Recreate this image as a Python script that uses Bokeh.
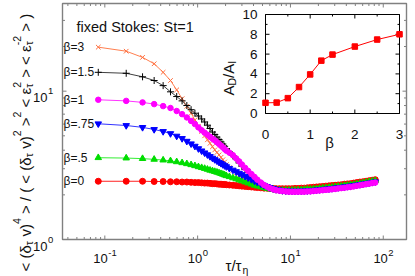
import math
from bokeh.plotting import figure
from bokeh.models import Range1d, Label, LinearScale
from bokeh.embed import file_html
from bokeh.resources import INLINE

# ---------------- data ----------------
tau = [0.085, 0.17, 0.255, 0.34, 0.425, 0.51, 0.595, 0.68,
       0.765, 0.85, 0.935, 1.02, 1.105, 1.19, 1.275, 1.36,
       1.445, 1.53, 1.615, 1.7, 1.785, 1.87, 1.955, 2.04,
       2.2, 2.4, 2.6, 2.8, 3.0, 3.25, 3.5, 3.8,
       4.1, 4.4, 4.8, 5.2, 5.6, 6.0, 6.5, 7.0,
       7.6, 8.2, 8.9, 9.6, 10.4, 11.2, 12.1, 13.1,
       14.1, 15.2, 16.4, 17.7, 19.1, 20.6, 22.3, 24.1,
       26.0, 28.0, 30.3, 32.7, 35.3, 38.1, 41.1, 44.4,
       48.0, 51.8, 56.0, 60.4, 65.2, 70.4, 76.0, 82.0]

flat_b3 = [19.8, 18.6, 16.9, 15.3, 13.4, 11.8, 10.2, 8.9,
           7.9, 7.1, 6.4, 5.8, 5.35, 5.0, 4.7, 4.45,
           4.22, 4.02, 3.86, 3.72, 3.58, 3.45, 3.33, 3.20,
           3.05, 2.92, 2.80, 2.70, 2.62, 2.54, 2.46, 2.39,
           2.33, 2.29, 2.25, 2.22, 2.20, 2.19, 2.18, 2.18,
           2.17, 2.17, 2.17, 2.17, 2.18, 2.18, 2.19, 2.19,
           2.20, 2.21, 2.22, 2.23, 2.24, 2.25, 2.26, 2.27,
           2.28, 2.30, 2.31, 2.32, 2.34, 2.35, 2.37, 2.38,
           2.40, 2.42, 2.44, 2.46, 2.48, 2.50, 2.52, 2.54]

flat_b15 = [13.4, 13.2, 12.5, 11.8, 10.9, 9.9, 9.2, 8.6,
            8.0, 7.5, 7.1, 6.8, 6.5, 6.2, 5.9, 5.6,
            5.3, 5.1, 4.9, 4.72, 4.55, 4.40, 4.25, 4.10,
            3.90, 3.68, 3.48, 3.28, 3.12, 2.96, 2.84, 2.70,
            2.58, 2.48, 2.38, 2.30, 2.25, 2.21, 2.18, 2.16,
            2.14, 2.13, 2.12, 2.12, 2.12, 2.12, 2.12, 2.12,
            2.13, 2.13, 2.14, 2.15, 2.16, 2.17, 2.18, 2.19,
            2.20, 2.21, 2.22, 2.24, 2.25, 2.26, 2.28, 2.29,
            2.31, 2.33, 2.35, 2.37, 2.39, 2.41, 2.43, 2.45]

flat_b1 = [8.75, 8.60, 8.40, 8.18, 7.93, 7.70, 7.35, 7.00,
           6.65, 6.30, 6.00, 5.70, 5.45, 5.25, 5.08, 4.92,
           4.78, 4.66, 4.53, 4.41, 4.29, 4.18, 4.07, 3.97,
           3.85, 3.70, 3.52, 3.36, 3.20, 3.04, 2.90, 2.76,
           2.64, 2.53, 2.42, 2.33, 2.27, 2.22, 2.18, 2.15,
           2.13, 2.12, 2.11, 2.10, 2.10, 2.10, 2.10, 2.10,
           2.10, 2.11, 2.11, 2.12, 2.13, 2.14, 2.15, 2.16,
           2.17, 2.18, 2.19, 2.21, 2.22, 2.23, 2.25, 2.26,
           2.28, 2.30, 2.32, 2.34, 2.36, 2.38, 2.40, 2.42]

flat_b075 = [6.03, 5.87, 5.70, 5.52, 5.35, 5.18, 4.98, 4.80,
             4.60, 4.42, 4.26, 4.10, 3.96, 3.84, 3.73, 3.63,
             3.54, 3.46, 3.39, 3.32, 3.26, 3.20, 3.15, 3.10,
             3.02, 2.94, 2.87, 2.80, 2.74, 2.67, 2.61, 2.54,
             2.48, 2.43, 2.37, 2.32, 2.28, 2.24, 2.21, 2.18,
             2.16, 2.14, 2.13, 2.12, 2.12, 2.12, 2.12, 2.12,
             2.13, 2.13, 2.14, 2.15, 2.16, 2.17, 2.18, 2.19,
             2.20, 2.21, 2.23, 2.24, 2.25, 2.27, 2.28, 2.30,
             2.32, 2.33, 2.35, 2.37, 2.39, 2.41, 2.43, 2.45]

flat_b05 = [3.56, 3.54, 3.51, 3.47, 3.43, 3.39, 3.34, 3.29,
            3.24, 3.19, 3.14, 3.09, 3.05, 3.01, 2.97, 2.93,
            2.90, 2.87, 2.84, 2.81, 2.78, 2.75, 2.72, 2.69,
            2.65, 2.60, 2.56, 2.52, 2.48, 2.44, 2.40, 2.36,
            2.32, 2.29, 2.26, 2.23, 2.21, 2.19, 2.18, 2.17,
            2.16, 2.15, 2.15, 2.15, 2.15, 2.15, 2.16, 2.16,
            2.17, 2.18, 2.18, 2.19, 2.20, 2.21, 2.22, 2.23,
            2.24, 2.25, 2.27, 2.28, 2.29, 2.31, 2.32, 2.34,
            2.35, 2.37, 2.39, 2.41, 2.43, 2.45, 2.47, 2.49]

flat_b0 = [2.47, 2.47, 2.47, 2.46, 2.46, 2.45, 2.45, 2.44,
           2.44, 2.43, 2.42, 2.42, 2.41, 2.40, 2.40, 2.39,
           2.38, 2.38, 2.37, 2.36, 2.36, 2.35, 2.35, 2.34,
           2.33, 2.32, 2.31, 2.30, 2.29, 2.28, 2.27, 2.26,
           2.25, 2.24, 2.23, 2.22, 2.22, 2.21, 2.21, 2.20,
           2.20, 2.20, 2.20, 2.20, 2.20, 2.21, 2.21, 2.22,
           2.22, 2.23, 2.24, 2.25, 2.26, 2.27, 2.28, 2.29,
           2.30, 2.31, 2.32, 2.33, 2.34, 2.36, 2.37, 2.38,
           2.40, 2.42, 2.44, 2.45, 2.47, 2.49, 2.51, 2.53]

curve_labels = ["β=3", "β=1.5", "β=1", "β=.75", "β=.5", "β=0"]

inset_beta = [0, 0.25, 0.5, 0.75, 1.0, 1.25, 1.5, 2.0, 2.5, 3.0]
inset_ratio = [1.08, 1.10, 1.55, 2.67, 3.95, 5.34, 5.95, 6.76, 7.47, 8.00]

x_major = [0.1, 1, 10, 100]
x_major_exp = ["-1", "0", "1", "2"]
x_minor = [0.04, 0.05, 0.06, 0.07, 0.08, 0.09,
           0.2, 0.3, 0.4, 0.5, 0.6, 0.7, 0.8, 0.9,
           2, 3, 4, 5, 6, 7, 8, 9,
           20, 30, 40, 50, 60, 70, 80, 90]
y_major = [1, 10]
y_major_exp = ["0", "1"]
y_minor = [2, 3, 4, 5, 6, 7, 8, 9, 20, 30]

inset_xticks = [0, 1, 2, 3]
inset_xminor = [0.5, 1.5, 2.5]
inset_yticks = [0, 2, 4, 6, 8, 10]
inset_yminor = [1, 3, 5, 7, 9]

for s in (flat_b3, flat_b15, flat_b1, flat_b075, flat_b05, flat_b0):
    assert len(s) == len(tau), len(s)

# ---------------- geometry ----------------
W, H = 415, 276                       # canvas (page has no margin)
PL, PR, PT, PB = 62, 406, 3, 239      # main plotting box on the page
XA0, XA1 = 0.035, 178.0               # data limits of the main box
YA0, YA1 = 1.0, 39.0
lx0, lx1 = math.log10(XA0), math.log10(XA1)
ly0, ly1 = math.log10(YA0), math.log10(YA1)
perx = (PR - PL) / (lx1 - lx0)
pery = (PB - PT) / (ly1 - ly0)
X_START, X_END = 10 ** (lx0 - PL / perx), 10 ** (lx1 + (W - PR) / perx)
Y_START, Y_END = 10 ** (ly0 - (H - PB) / pery), 10 ** (ly1 + PT / pery)

IL, IR, IT, IB = 265, 399, 14, 113    # inset box on the page
ipx = (IR - IL) / 3.0
ipy = (IB - IT) / 10.0
IX0, IX1 = -IL / ipx, 3 + (W - IR) / ipx
IY0, IY1 = -(H - IB) / ipy, 10 + IT / ipy

FONT = "Liberation Sans"
FRAME = "#808080"
TXT = "#111111"

p = figure(width=W, height=H, x_axis_type="log", y_axis_type="log",
           x_range=Range1d(X_START, X_END), y_range=Range1d(Y_START, Y_END),
           x_axis_location=None, y_axis_location=None,
           output_backend="svg", toolbar_location=None, title=None,
           min_border=0)
p.grid.visible = False
p.outline_line_color = None
p.background_fill_color = "white"
p.border_fill_color = "white"

p.extra_x_ranges = {"ix": Range1d(IX0, IX1)}
p.extra_y_ranges = {"iy": Range1d(IY0, IY1)}
p.extra_x_scales = {"ix": LinearScale()}
p.extra_y_scales = {"iy": LinearScale()}

# ---------------- main box, ticks ----------------
p.quad(left=[XA0], right=[XA1], bottom=[YA0], top=[YA1], fill_color=None,
       line_color=FRAME, line_width=1.4)
for xs, ln in ((x_major, 4), (x_minor, 2.5)):
    p.ray(x=xs, y=[YA0] * len(xs), length=ln, angle=math.pi / 2,
          length_units="screen", line_color=FRAME, line_width=1)
    p.ray(x=xs, y=[YA1] * len(xs), length=ln, angle=-math.pi / 2,
          length_units="screen", line_color=FRAME, line_width=1)
for ys, ln in ((y_major, 4), (y_minor, 2.5)):
    p.ray(x=[XA0] * len(ys), y=ys, length=ln, angle=0,
          length_units="screen", line_color=FRAME, line_width=1)
    p.ray(x=[XA1] * len(ys), y=ys, length=ln, angle=math.pi,
          length_units="screen", line_color=FRAME, line_width=1)

# ---------------- main curves ----------------
series = [
    (flat_b3, "#ff7f50", "#ff7040", "x", 6.5),
    (flat_b15, "#404040", "#000000", "cross", 7),
    (flat_b0, "#ff2020", "#ff0000", "circle", 6),
    (flat_b05, "#33ee33", "#00dd00", "triangle", 6.5),
    (flat_b075, "#3333ff", "#0000ff", "inverted_triangle", 6.5),
    (flat_b1, "#ff33ff", "#ff00ff", "circle", 5.5),
]
for vals, lc, mc, mk, sz in series:
    p.line(tau, vals, line_color=lc, line_width=1)
    p.scatter(tau, vals, marker=mk, size=sz, line_color=mc, fill_color=mc,
              line_width=1)

# ---------------- text helpers ----------------
WID = {'<': 584, ' ': 278, '(': 333, ')': 333, 'δ': 556, 'τ': 428, 'v': 500,
       '/': 278, '>': 584, 'ε': 446, '0': 556, '1': 556, '2': 556, '4': 556,
       '-': 333, 'A': 667, 'D': 722, 'I': 278, 'η': 556}


def adv(s, size):
    return sum(WID[c] for c in s) / 1000.0 * size


def lab(text, x, y, dx, dy, size, align="left", baseline="alphabetic", angle=0.0,
        xr="default", yr="default"):
    """Text anchored at a data point; dx right, dy down in screen pixels."""
    p.add_layout(Label(x=x, y=y, x_offset=dx, y_offset=-dy, text=text,
                       x_range_name=xr, y_range_name=yr,
                       text_font=FONT, text_font_size=f"{size}px",
                       text_color=TXT, text_align=align, text_baseline=baseline,
                       angle=angle))


def page_label(text, px, py, size, align="left", angle=0.0):
    # anchored on the main box's lower-left corner
    lab(text, XA0, YA0, px - PL, py - PB, size, align=align, angle=angle)


def vertical_text(pieces, start_y, base_x, sub_x, sup_x, F, f):
    """Rotated (reading upward) text built from normal / sub / sup pieces."""
    s = 0.0
    for kind, txt in pieces:
        if kind == "n":
            lead = len(txt) - len(txt.lstrip(' '))
            page_label(txt.strip(' '), base_x, start_y - s - adv(' ' * lead, F), F,
                       angle=math.pi / 2)
            s += adv(txt, F)
        elif kind == "sub":
            page_label(txt, sub_x, start_y - s, f, angle=math.pi / 2)
            s += adv(txt, f)
        elif kind == "sup":
            page_label(txt, sup_x, start_y - s, f, angle=math.pi / 2)
            s += adv(txt, f)
        else:  # stacked sub + sup
            sb, sp = txt
            page_label(sb, sub_x, start_y - s, f, angle=math.pi / 2)
            page_label(sp, sup_x, start_y - s, f, angle=math.pi / 2)
            s += max(adv(sb, f), adv(sp, f))


# main tick labels (10 with superscript exponent)
TF, TE = 13, 9.5
for v, e in zip(y_major, y_major_exp):
    lab("10", XA0, v, -15, 6.5, TF, align="right")
    lab(e, XA0, v, -14.5, 0, TE, align="left")
for v, e in zip(x_major, x_major_exp):
    tw = adv("10", TF) + adv(e, TE)
    lab("10", v, YA0, -tw / 2, 19.3, TF, align="left")
    lab(e, v, YA0, -tw / 2 + adv("10", TF) + 0.5, 13.5, TE, align="left")

# curve labels
for txt, vals in zip(curve_labels, [flat_b3, flat_b15, flat_b1, flat_b075, flat_b05, flat_b0]):
    lab(txt, XA0, vals[0], 1, 0, 12, baseline="middle")

# ---------------- inset ----------------
p.quad(left=[0], right=[3], bottom=[0], top=[10], fill_color="white",
       line_color="black", line_width=1, x_range_name="ix", y_range_name="iy")
for xs, ln in ((inset_xticks, 4), (inset_xminor, 2)):
    p.ray(x=xs, y=[0] * len(xs), length=ln, angle=math.pi / 2, length_units="screen",
          line_color="black", x_range_name="ix", y_range_name="iy")
    p.ray(x=xs, y=[10] * len(xs), length=ln, angle=-math.pi / 2, length_units="screen",
          line_color="black", x_range_name="ix", y_range_name="iy")
for ys, ln in ((inset_yticks, 4), (inset_yminor, 2)):
    p.ray(x=[0] * len(ys), y=ys, length=ln, angle=0, length_units="screen",
          line_color="black", x_range_name="ix", y_range_name="iy")
    p.ray(x=[3] * len(ys), y=ys, length=ln, angle=math.pi, length_units="screen",
          line_color="black", x_range_name="ix", y_range_name="iy")
p.line(inset_beta, inset_ratio, line_color="#ff0000", line_width=1,
       x_range_name="ix", y_range_name="iy")
p.scatter(inset_beta, inset_ratio, marker="square", size=5.5, line_color="#ff0000",
          fill_color="#ff0000", x_range_name="ix", y_range_name="iy")

for v in inset_xticks:
    lab(str(v), v, 0, 0, 20.5, 13.5, align="center", xr="ix", yr="iy")
for v in inset_yticks:
    lab(str(v), 0, v, -8, 0, 13.5, align="right", baseline="middle", xr="ix", yr="iy")

# main y label
vertical_text([("n", "< (δ"), ("sub", "τ"), ("n", " v)"), ("sup", "4"),
               ("n", " > / ( < (δ"), ("sub", "τ"), ("n", " v)"), ("sup", "2"),
               ("n", " >"), ("sup", "2"), ("n", " < ε"), ("ss", ("τ", "2")),
               ("n", " > < ε"), ("ss", ("τ", "-2")), ("n", " > )")],
              start_y=271, base_x=25, sub_x=28, sup_x=16.5, F=15, f=10.5)

# inset y label
vertical_text([("n", "A"), ("sub", "D"), ("n", "/A"), ("sub", "I")],
              start_y=95, base_x=227.5, sub_x=231.5, sup_x=220, F=15, f=10.5)

# x labels
page_label("τ/τ", 225, 265, 15)
page_label("η", 225 + adv("τ/τ", 15), 269, 10.5)
page_label("β", 329, 142, 15, align="center")

# title text
page_label("fixed Stokes: St=1", 76, 26.7, 14.5)

open("out.html", "w").write(file_html(p, INLINE, title="plot"))
